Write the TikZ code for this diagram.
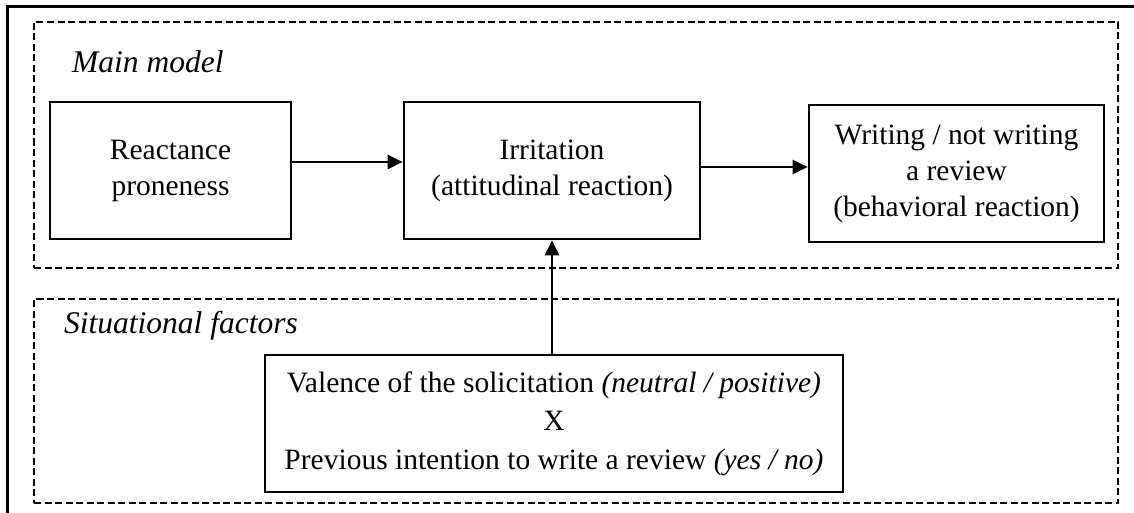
\documentclass[tikz,border=0pt]{standalone}
\usepackage{fontspec}
\setmainfont{Liberation Serif}
\usetikzlibrary{arrows.meta}
\tikzset{
  boxtext/.style={font=\fontsize{29.5}{36}\selectfont},
  stepbox/.style={draw, line width=2.7pt, align=center, inner sep=0pt, boxtext},
  groupbox/.style={draw, line width=2.8pt, dash pattern=on 7pt off 3.5pt, inner sep=0pt},
  grouplabel/.style={font=\fontsize{31.5}{36}\selectfont\itshape, inner sep=0pt, anchor=base west},
  link/.style={line width=2.3pt, -{Triangle[length=15pt,width=14pt]}},
}
\begin{document}
\begin{tikzpicture}[x=1pt,y=-1pt]
\useasboundingbox (0,0) rectangle (1134,513);
% outer frame (right and bottom edges lie outside the picture)
\draw[line width=2.8pt] (7.5,513) -- (7.5,6.5) -- (1134,6.5);
% group boxes
\node[groupbox, minimum width=1084pt, minimum height=246pt] (main) at (576,145) {};
\node[groupbox, minimum width=1084pt, minimum height=204pt] (sit) at (576,401) {};
\node[grouplabel] (mainlabel) at (72,73) {Main model};
\node[grouplabel] (sitlabel) at (64,333) {Situational factors};
% boxes
\node[stepbox, minimum width=241pt, minimum height=137pt] (react) at (170.5,170.5) {Reactance\\proneness};
\node[stepbox, minimum width=296pt, minimum height=137pt] (irr) at (552,170.5) {Irritation\\(attitudinal reaction)};
\node[stepbox, minimum width=295pt, minimum height=137pt] (write) at (956.5,173.5) {Writing / not writing\\a review\\(behavioral reaction)};
\node[stepbox, minimum width=578pt, minimum height=137pt, font=\fontsize{29.5}{38.5}\selectfont] (val) at (554,423.5)
  {Valence of the solicitation \textit{(neutral / positive)}\\X\\Previous intention to write a review \textit{(yes / no)}};
% connectors
\draw[link] (react.east |- 0,162) -- (irr.west |- 0,162);
\draw[link] (irr.east |- 0,167) -- (write.west |- 0,167);
\draw[link] (val.north -| irr.south) -- (irr.south);
\end{tikzpicture}
\end{document}
